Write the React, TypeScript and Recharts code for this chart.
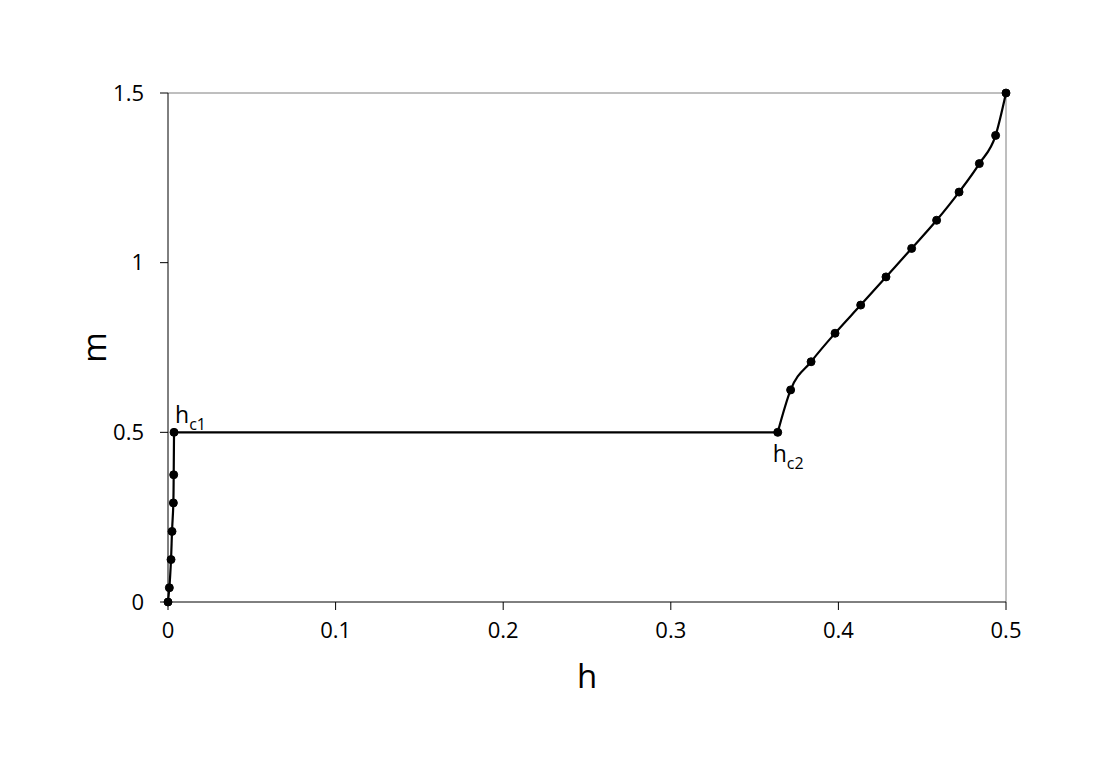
import React from 'react';
import { LineChart, Line, XAxis, YAxis, ReferenceLine, ReferenceDot, Label } from 'recharts';

// low-field branch, up to hc1
const lowH = [0, 0.0008, 0.0018, 0.0024, 0.0032, 0.0034, 0.0036];
const lowM = [0, 0.042, 0.125, 0.208, 0.292, 0.375, 0.5];

// high-field branch, from hc2 to saturation
const highH = [0.3638, 0.3715, 0.3837, 0.398, 0.4133, 0.4284, 0.4437, 0.4586, 0.472, 0.4841, 0.4938, 0.5];
const highM = [0.5, 0.625, 0.708, 0.792, 0.875, 0.958, 1.042, 1.125, 1.208, 1.292, 1.375, 1.5];

const xTicks = [0, 0.1, 0.2, 0.3, 0.4, 0.5];
const yTicks = [0, 0.5, 1, 1.5];

const FONT = '"Open Sans", sans-serif';

const lowData = lowH.map((h, i) => ({ h, m: lowM[i] }));
const highData = highH.map((h, i) => ({ h, m: highM[i] }));
const plateau = [lowData[lowData.length - 1], highData[0]];

const dotStyle = { r: 4, fill: '#000', stroke: '#000', strokeWidth: 1, clipDot: false };

const critLabel = (sub: string, dx: number, dy: number) => (props: any) => {
  const vb = props.viewBox || {};
  const x = (vb.x || 0) + (vb.width || 0) / 2 + dx;
  const y = (vb.y || 0) + (vb.height || 0) / 2 + dy;
  return (
    <text x={x} y={y} fontFamily={FONT} fontSize={23} fill="#000">
      <tspan>h</tspan>
      <tspan fontSize={16} dy={7}>{sub}</tspan>
    </text>
  );
};

export default function App() {
  return (
    <div style={{ position: 'absolute', left: 0, top: 0, width: 1107, height: 783, background: '#fff' }}>
      <LineChart
        width={1107}
        height={783}
        margin={{ top: 93, right: 101, left: 100, bottom: 91 }}
      >
        <XAxis
          type="number"
          dataKey="h"
          domain={[0, 0.5]}
          ticks={xTicks}
          tickFormatter={(v: number) => String(v)}
          height={90}
          stroke="#000"
          tickSize={8}
          tickMargin={12}
          tick={{ fill: '#000', fontSize: 22, fontFamily: FONT }}
        >
          <Label value="h" position="insideBottom" offset={4} style={{ fontSize: 33, fontFamily: FONT, fill: '#000' }} />
        </XAxis>
        <YAxis
          type="number"
          dataKey="m"
          domain={[0, 1.5]}
          ticks={yTicks}
          width={68}
          stroke="#000"
          tickSize={8}
          tickMargin={16}
          tick={{ fill: '#000', fontSize: 22, fontFamily: FONT }}
        >
          <Label value="m" angle={-90} position="insideLeft" offset={-6} style={{ fontSize: 33, fontFamily: FONT, fill: '#000', textAnchor: 'middle' }} />
        </YAxis>
        <ReferenceLine y={1.5} stroke="#7f7f7f" strokeWidth={1} />
        <ReferenceLine x={0.5} stroke="#7f7f7f" strokeWidth={1} />
        <Line
          data={plateau}
          dataKey="m"
          type="linear"
          stroke="#000"
          strokeWidth={2.2}
          dot={false}
          isAnimationActive={false}
        />
        <Line
          data={lowData}
          dataKey="m"
          type="monotoneY"
          stroke="#000"
          strokeWidth={2.2}
          dot={dotStyle}
          isAnimationActive={false}
        />
        <Line
          data={highData}
          dataKey="m"
          type="monotone"
          stroke="#000"
          strokeWidth={2.2}
          dot={dotStyle}
          isAnimationActive={false}
        />
        <ReferenceDot x={plateau[0].h} y={plateau[0].m} r={0} label={critLabel('c1', 1, -9)} />
        <ReferenceDot x={plateau[1].h} y={plateau[1].m} r={0} label={critLabel('c2', -5, 30)} />
      </LineChart>
    </div>
  );
}
